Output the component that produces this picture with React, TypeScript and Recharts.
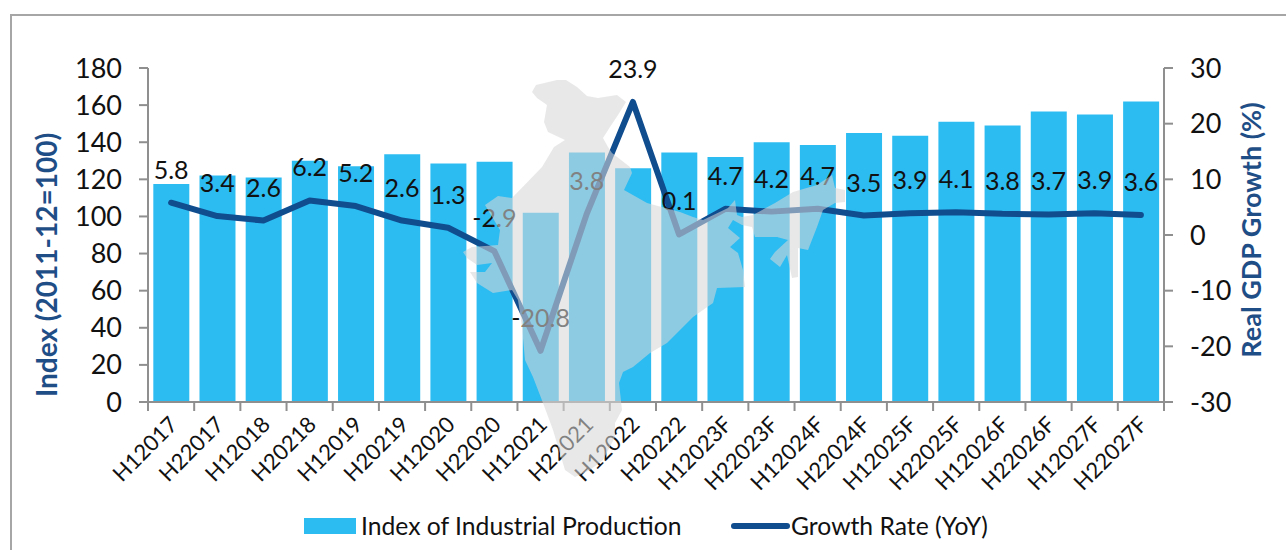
import React from "react";
import { ComposedChart, Bar, Line, XAxis, YAxis, Legend, LabelList } from "recharts";

const FONT = "Lato, Carlito, Calibri, sans-serif";
const AXIS = "#8f8f8f";
const NAVY = "#0f4d8f";
const TITLE = "#1f4e87";
const BAR = "#2dbcf2";

const categories = ["H12017","H22017","H12018","H20218","H12019","H20219","H12020","H22020","H12021","H22021","H12022","H20222","H12023F","H22023F","H12024F","H22024F","H12025F","H22025F","H12026F","H22026F","H12027F","H22027F"];
const indexValues = [117.5,122,121,130,127,133.5,128.5,129.5,102,134.5,126,134.5,132,140,138.5,145,143.5,151,149,156.5,155,162];
const growthValues = [5.8,3.4,2.6,6.2,5.2,2.6,1.3,-2.9,-20.8,3.8,23.9,0.1,4.7,4.2,4.7,3.5,3.9,4.1,3.8,3.7,3.9,3.6];
const leftTicks = [0,20,40,60,80,100,120,140,160,180];
const rightTicks = [-30,-20,-10,0,10,20,30];

const rows = categories.map((c, i) => ({ period: c, index: indexValues[i], growth: growthValues[i] }));

// decorative map silhouette laid over the chart
const mapOutline = [[532,92],[536,85],[557,80],[566,80],[577,87],[587,96],[598,98],[617,95],[626,102],[618,115],[610,127],[603,138],[608,147],[612,153],[630,167],[632,173],[624,190],[647,203],[680,212],[693,217],[703,220],[728,208],[735,200],[737,215],[742,217],[753,215],[775,203],[793,192],[817,185],[832,175],[835,188],[845,190],[845,202],[835,203],[823,210],[817,227],[808,250],[798,248],[798,277],[792,278],[787,255],[780,267],[770,259],[775,252],[788,240],[777,237],[755,237],[752,227],[742,225],[733,220],[728,228],[740,238],[730,247],[738,253],[743,270],[745,287],[717,288],[713,303],[693,317],[667,343],[650,353],[633,367],[623,372],[619,383],[622,410],[615,423],[615,437],[603,460],[590,470],[575,477],[565,470],[553,430],[543,403],[533,377],[525,360],[522,327],[518,300],[512,290],[493,293],[477,283],[470,272],[485,272],[492,263],[477,265],[467,258],[463,252],[472,247],[498,245],[500,230],[485,205],[498,196],[512,198],[542,167],[554,147],[565,140],[548,132],[544,122],[547,105],[537,98]];

const W = 1286, H = 550;
const PLOT_L = 148, PLOT_R = 1164;
const STEP = (PLOT_R - PLOT_L) / categories.length;

const XTick = (props: any) => {
  const { x, y, payload, index } = props;
  const isLast = index === categories.length - 1;
  return (
    <g>
      <line x1={x - STEP / 2} x2={x - STEP / 2} y1={y - 9} y2={y + 1} stroke={AXIS} strokeWidth={2} />
      {isLast && <line x1={x + STEP / 2} x2={x + STEP / 2} y1={y - 9} y2={y + 1} stroke={AXIS} strokeWidth={2} />}
      <text x={x + 8} y={y + 16} transform={`rotate(-45 ${x + 8} ${y + 16})`} textAnchor="end" fontFamily={FONT} fontSize={22} fill="#111">{payload.value}</text>
    </g>
  );
};

const LegendBody = (props: any) => {
  const items = props.payload || [];
  const bar = items.find((p: any) => p.dataKey === "index");
  const line = items.find((p: any) => p.dataKey === "growth");
  const label = { position: "absolute" as const, top: 0, fontFamily: FONT, fontSize: 24.7, color: "#111", lineHeight: "28px", whiteSpace: "nowrap" as const };
  return (
    <div style={{ position: "relative", width: W, height: 28 }}>
      <div style={{ position: "absolute", left: 304, top: 6, width: 52, height: 16, background: BAR }} />
      <div style={{ ...label, left: 361 }}>{bar && bar.value}</div>
      <div style={{ position: "absolute", left: 731, top: 11, width: 59, height: 6, background: NAVY, borderRadius: 3 }} />
      <div style={{ ...label, left: 791 }}>{line && line.value}</div>
    </div>
  );
};

export default function App() {
  return (
    <div style={{ position: "absolute", left: 0, top: 0, width: W, height: H, overflow: "hidden", background: "#fff" }}>
      <div style={{ position: "absolute", left: 10, top: 14, width: W + 20, height: H + 20, border: "2px solid #a6a6a6" }} />
      <div style={{ position: "absolute", left: 0, top: 0 }}>
        <ComposedChart width={W} height={H} data={rows} barCategoryGap="11.5%" margin={{ top: 68, right: 0, bottom: 48, left: 0 }}>
          <XAxis dataKey="period" height={100} interval={0} tick={<XTick />} tickLine={false} axisLine={{ stroke: AXIS, strokeWidth: 2 }} />
          <YAxis width={PLOT_L} domain={[0, 180]} ticks={leftTicks} interval={0} tickSize={9} tickMargin={17}
            tick={{ fontFamily: FONT, fontSize: 27, fill: "#111" }} tickLine={{ stroke: AXIS, strokeWidth: 2 }} axisLine={{ stroke: AXIS, strokeWidth: 2 }}
            label={{ content: () => <text x={0} y={0} transform="translate(57 265) rotate(-90)" textAnchor="middle" fontFamily={FONT} fontWeight={700} fontSize={28} fill={TITLE}>Index (2011-12=100)</text> }} />
          <YAxis yAxisId="r" orientation="right" width={W - PLOT_R} domain={[-30, 30]} ticks={rightTicks} interval={0} tickSize={9} tickMargin={17}
            tick={{ fontFamily: FONT, fontSize: 27, fill: "#111" }} tickLine={{ stroke: AXIS, strokeWidth: 2 }} axisLine={{ stroke: AXIS, strokeWidth: 2 }}
            label={{ content: () => <text x={0} y={0} transform="translate(1261 230) rotate(-90)" textAnchor="middle" fontFamily={FONT} fontWeight={700} fontSize={27} fill={TITLE}>Real GDP Growth (%)</text> }} />
          <Bar dataKey="index" name="Index of Industrial Production" fill={BAR} isAnimationActive={false} />
          <Line yAxisId="r" dataKey="growth" name="Growth Rate (YoY)" stroke={NAVY} strokeWidth={6} dot={false} strokeLinecap="round" strokeLinejoin="round" isAnimationActive={false}>
            <LabelList dataKey="growth" position="top" offset={24} fontFamily={FONT} fontSize={25} fill="#111" />
          </Line>
          <Legend layout="horizontal" verticalAlign="middle" align="center" content={<LegendBody />} wrapperStyle={{ left: 0, top: 512, width: W, height: 28 }} />
        </ComposedChart>
      </div>
      <svg width={W} height={H} style={{ position: "absolute", left: 0, top: 0, pointerEvents: "none" }}>
        <polygon points={mapOutline.map((p) => p.join(",")).join(" ")} fill="#d6d6d6" fillOpacity={0.57} />
      </svg>
    </div>
  );
}
